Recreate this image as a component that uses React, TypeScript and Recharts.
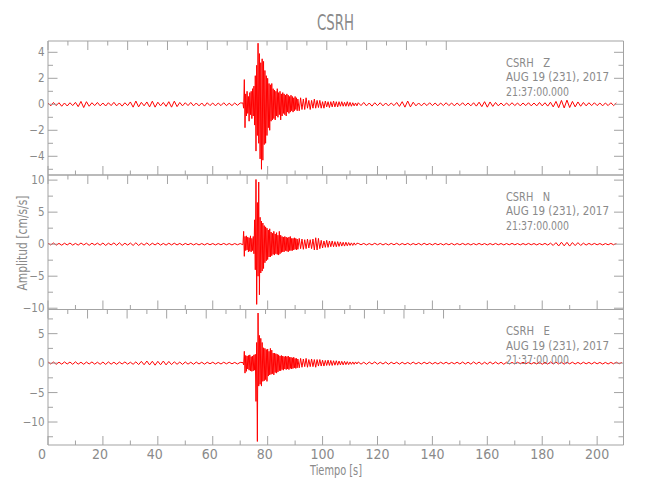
import { LineChart, Line, XAxis, YAxis } from "recharts";

// segment layout of each trace (seconds)
const PRE_START = 0;
const NOISE_STEP = 1;
const EVENT_START = 71;
const EVENT_STEP = 0.25;
const CODA_START = 91;
const CODA_STEP = 0.5;
const POST_START = 113;

// Z component [cm/s/s]
const zPre = [
  0.1, -0.12, 0.14, -0.1, 0.12, -0.15, 0.1, -0.13, 0.12, -0.1,
  0.15, -0.18, 0.22, -0.25, 0.2, -0.15, 0.12, -0.1, 0.14, -0.12,
  0.1, -0.13, 0.12, -0.1, 0.15, -0.12, 0.1, -0.14, 0.12, -0.1,
  0.18, -0.22, 0.25, -0.2, 0.15, -0.12, 0.18, -0.2, 0.24, -0.22,
  0.16, -0.12, 0.14, -0.16, 0.2, -0.22, 0.24, -0.18, 0.14, -0.12,
  0.12, -0.1, 0.14, -0.12, 0.1, -0.12, 0.1, -0.14, 0.12, -0.1,
  0.1, -0.12, 0.1, -0.1, 0.12, -0.1, 0.08, -0.1, 0.1, -0.08,
  0.1,
];
const zEvent = [
  0.1, -0.3, 1.9, -1.8, 0.8, -0.9, 1.0, -0.7,
  0.6, -1.3, 0.9, -0.8, 1.0, -1.1, 1.2, -0.9,
  1.4, -1.6, 2.2, -3.6, 3.0, -2.4, 4.7, -3.0,
  3.9, -4.2, 3.2, -5.0, 3.5, -4.3, 3.3, -3.1,
  2.6, -3.0, 2.2, -2.4, 2.0, -1.8, 1.6, -2.0,
  1.5, -1.3, 1.6, -1.2, 1.2, -1.1, 1.1, -1.2,
  1.0, -0.9, 1.2, -1.0, 0.9, -0.8, 1.0, -1.2,
  0.8, -0.9, 0.9, -0.7, 0.8, -0.8, 0.7, -0.9,
  0.8, -0.6, 0.7, -0.7, 0.6, -0.6, 0.7, -0.5,
  0.6, -0.6, 0.5, -0.5, 0.6, -0.4, 0.5, -0.5,
];
const zCoda = [
  0.4, -0.5, 0.5, -0.4, 0.4, -0.4, 0.5, -0.3, 0.3, -0.4, 0.3,
  -0.3, 0.4, -0.3, 0.3, -0.25, 0.3, -0.3, 0.2, -0.3, 0.25, -0.2,
  0.2, -0.25, 0.2, -0.2, 0.25, -0.2, 0.2, -0.2, 0.2, -0.15, 0.2,
  -0.15, 0.15, -0.15, 0.2, -0.15, 0.15, -0.15, 0.12, -0.12, 0.1, -0.12,
];
const zPost = [
  0.12, -0.1, 0.14, -0.12, 0.1, -0.14, 0.12, -0.1, 0.12, -0.12,
  0.1, -0.12, 0.1, -0.1, 0.14, -0.16, 0.2, -0.22, 0.25, -0.2,
  0.16, -0.12, 0.1, -0.12, 0.1, -0.1, 0.12, -0.1, 0.1, -0.12,
  0.1, -0.1, 0.12, -0.1, 0.1, -0.12, 0.1, -0.1, 0.12, -0.1,
  0.1, -0.12, 0.12, -0.14, 0.16, -0.18, 0.2, -0.22, 0.18, -0.16,
  0.14, -0.12, 0.1, -0.12, 0.1, -0.1, 0.12, -0.1, 0.1, -0.12,
  0.1, -0.1, 0.12, -0.12, 0.1, -0.12, 0.14, -0.12, 0.12, -0.14,
  0.16, -0.2, 0.22, -0.26, 0.3, -0.28, 0.32, -0.25, 0.22, -0.2,
  0.18, -0.15, 0.14, -0.12, 0.12, -0.1, 0.12, -0.1, 0.1, -0.12,
  0.1, -0.1, 0.12, -0.1, 0.1,
];

// N component [cm/s/s]
const nPre = [
  0.15, -0.12, 0.18, -0.15, 0.12, -0.16, 0.15, -0.12, 0.18, -0.15,
  0.12, -0.15, 0.18, -0.12, 0.15, -0.18, 0.15, -0.12, 0.16, -0.15,
  0.18, -0.2, 0.15, -0.12, 0.2, -0.18, 0.22, -0.2, 0.15, -0.15,
  0.18, -0.2, 0.22, -0.2, 0.15, -0.15, 0.2, -0.18, 0.15, -0.12,
  0.18, -0.15, 0.12, -0.15, 0.15, -0.12, 0.15, -0.12, 0.12, -0.14,
  0.12, -0.1, 0.12, -0.12, 0.1, -0.12, 0.1, -0.12, 0.12, -0.1,
  0.1, -0.12, 0.1, -0.1, 0.12, -0.1, 0.1, -0.12, 0.1, -0.1,
  0.1,
];
const nEvent = [
  -0.1, 2.0, -1.9, 1.2, -1.0, 1.3, -0.9, 1.1,
  -1.2, 1.0, -1.1, 1.3, -1.2, 0.9, -1.0, 1.2,
  -1.5, 3.8, -4.0, 10.1, -9.4, 6.5, -5.0, 9.7,
  -7.9, 4.2, -4.5, 3.6, -4.2, 3.3, -3.8, 2.9,
  -2.9, 2.7, -2.6, 2.5, -2.4, 2.2, -2.0, 2.4,
  -2.0, 1.9, -1.8, 1.7, -1.6, 2.0, -1.7, 1.6,
  -1.5, 1.8, -1.6, 1.4, -1.7, 2.0, -1.5, 1.4,
  -1.3, 1.2, -1.2, 1.1, -1.2, 1.2, -1.0, 1.1,
  -1.1, 1.0, -1.2, 1.1, -1.0, 1.2, -1.0, 0.9,
  -1.0, 0.9, -0.9, 1.0, -0.8, 0.9, -0.9, 0.8,
];
const nCoda = [
  -0.8, 0.9, -0.7, 0.8, -0.8, 0.7, -0.7, 0.8, -0.6, 0.7, -0.7,
  0.8, -0.9, 1.0, -0.9, 0.9, -0.7, 0.6, -0.6, 0.5, -0.5, 0.6,
  -0.5, 0.5, -0.4, 0.5, -0.4, 0.4, -0.4, 0.4, -0.35, 0.35, -0.3,
  0.3, -0.3, 0.3, -0.25, 0.25, -0.2, 0.2, -0.2, 0.2, -0.15, 0.15,
];
const nPost = [
  0.12, -0.1, 0.12, -0.12, 0.1, -0.12, 0.14, -0.1, 0.12, -0.12,
  0.1, -0.12, 0.12, -0.1, 0.14, -0.12, 0.1, -0.1, 0.12, -0.12,
  0.1, -0.1, 0.12, -0.12, 0.14, -0.1, 0.1, -0.12, 0.12, -0.1,
  0.1, -0.12, 0.1, -0.1, 0.12, -0.12, 0.1, -0.1, 0.12, -0.1,
  0.1, -0.12, 0.1, -0.1, 0.12, -0.1, 0.1, -0.12, 0.1, -0.1,
  0.12, -0.1, 0.1, -0.12, 0.1, -0.1, 0.12, -0.1, 0.1, -0.12,
  0.1, -0.1, 0.12, -0.1, 0.1, -0.12, 0.1, -0.1, 0.12, -0.14,
  0.16, -0.2, 0.24, -0.28, 0.3, -0.26, 0.28, -0.3, 0.25, -0.22,
  0.24, -0.2, 0.16, -0.14, 0.12, -0.1, 0.12, -0.1, 0.1, -0.12,
  0.1, -0.1, 0.12, -0.1, 0.1,
];

// E component [cm/s/s]
const ePre = [
  0.2, -0.15, 0.18, -0.2, 0.15, -0.18, 0.2, -0.15, 0.18, -0.2,
  0.22, -0.18, 0.15, -0.2, 0.18, -0.15, 0.2, -0.18, 0.15, -0.2,
  0.18, -0.22, 0.2, -0.18, 0.15, -0.2, 0.18, -0.15, 0.2, -0.18,
  0.15, -0.2, 0.22, -0.25, 0.3, -0.28, 0.35, -0.3, 0.32, -0.35,
  0.3, -0.28, 0.35, -0.3, 0.28, -0.25, 0.22, -0.2, 0.18, -0.22,
  0.2, -0.18, 0.15, -0.2, 0.18, -0.15, 0.15, -0.18, 0.15, -0.12,
  0.15, -0.15, 0.12, -0.15, 0.15, -0.12, 0.15, -0.12, 0.12, -0.15,
  0.12,
];
const eEvent = [
  0.1, -0.3, 2.0, -1.7, 1.3, -1.4, 1.2, -1.0,
  1.3, -1.2, 1.4, -1.3, 1.1, -1.4, 1.2, -1.3,
  1.4, -1.2, 1.5, -6.5, 3.5, -13.3, 8.5, -3.9,
  4.7, -3.6, 4.2, -3.9, 3.5, -3.1, 2.6, -3.0,
  2.5, -2.8, 2.3, -3.1, 2.4, -2.2, 2.0, -2.0,
  2.5, -1.9, 2.2, -1.8, 1.7, -2.0, 1.7, -1.6,
  1.6, -1.7, 1.5, -1.5, 1.4, -1.3, 1.2, -1.3,
  1.3, -1.1, 1.2, -1.2, 1.1, -1.0, 1.2, -1.1,
  1.1, -1.0, 1.2, -1.1, 1.0, -0.9, 1.0, -1.0,
  0.9, -0.9, 1.0, -0.8, 0.8, -0.9, 0.8, -0.8,
];
const eCoda = [
  0.7, -0.8, 0.8, -0.7, 0.7, -0.6, 0.8, -0.7, 0.6, -0.6, 0.7,
  -0.6, 0.6, -0.7, 0.6, -0.5, 0.6, -0.5, 0.5, -0.5, 0.45, -0.4,
  0.5, -0.4, 0.45, -0.4, 0.4, -0.35, 0.4, -0.35, 0.35, -0.3, 0.3,
  -0.3, 0.3, -0.25, 0.25, -0.25, 0.2, -0.2, 0.2, -0.2, 0.2, -0.15,
];
const ePost = [
  0.2, -0.18, 0.15, -0.2, 0.18, -0.15, 0.2, -0.18, 0.15, -0.15,
  0.18, -0.2, 0.15, -0.12, 0.15, -0.18, 0.15, -0.15, 0.12, -0.15,
  0.18, -0.15, 0.12, -0.15, 0.15, -0.12, 0.15, -0.15, 0.12, -0.15,
  0.15, -0.12, 0.15, -0.15, 0.12, -0.12, 0.15, -0.15, 0.18, -0.15,
  0.15, -0.18, 0.2, -0.15, 0.18, -0.2, 0.15, -0.18, 0.2, -0.15,
  0.18, -0.15, 0.15, -0.2, 0.15, -0.15, 0.12, -0.15, 0.15, -0.12,
  0.15, -0.12, 0.12, -0.15, 0.12, -0.15, 0.18, -0.2, 0.15, -0.18,
  0.2, -0.15, 0.18, -0.15, 0.15, -0.18, 0.15, -0.12, 0.15, -0.15,
  0.12, -0.15, 0.15, -0.12, 0.12, -0.15, 0.15, -0.12, 0.12, -0.15,
  0.12, -0.15, 0.12, -0.12, 0.15, -0.12, 0.1,
];

const X_TICKS = [0, 10, 20, 30, 40, 50, 60, 70, 80, 90, 100, 110, 120, 130, 140, 150, 160, 170, 180, 190, 200];
const Z_TICKS = [-5, -4, -3, -2, -1, 0, 1, 2, 3, 4];
const N_TICKS = [-10, -7.5, -5, -2.5, 0, 2.5, 5, 7.5, 10];
const E_TICKS = [-12.5, -10, -7.5, -5, -2.5, 0, 2.5, 5, 7.5];

const STATION = "CSRH";
const DATE_LINE = "AUG 19 (231), 2017";
const TIME_LINE = "21:37:00.000";

const AXIS = "#a3a3a3";
const TEXT = "#8a8a8a";
const FONT = "'Liberation Sans Narrow', 'DejaVu Sans Condensed', 'Liberation Sans', sans-serif";
const LEFT = 48;
const RIGHT = 623.5;

function buildTrace(pre: number[], ev: number[], coda: number[], post: number[]) {
  return [
    ...pre.map((v, i) => ({ t: PRE_START + i * NOISE_STEP, v })),
    ...ev.map((v, i) => ({ t: EVENT_START + i * EVENT_STEP, v })),
    ...coda.map((v, i) => ({ t: CODA_START + i * CODA_STEP, v })),
    ...post.map((v, i) => ({ t: POST_START + i * NOISE_STEP, v })),
  ];
}

const panels = [
  { comp: "Z", top: 41, bottom: 175, domain: [-5.44, 4.87], ticks: Z_TICKS, major: 2, data: buildTrace(zPre, zEvent, zCoda, zPost) },
  { comp: "N", top: 175, bottom: 309.5, domain: [-10.2, 10.8], ticks: N_TICKS, major: 5, data: buildTrace(nPre, nEvent, nCoda, nPost) },
  { comp: "E", top: 309.5, bottom: 445, domain: [-13.9, 9.1], ticks: E_TICKS, major: 5, data: buildTrace(ePre, eEvent, eCoda, ePost) },
];

const fmt = (v: number) => (v < 0 ? "\u2212" + Math.abs(v) : String(v));

function Panel({ p, showX }: { p: (typeof panels)[number]; showX: boolean }) {
  return (
    <div style={{ position: "absolute", left: 0, top: 0 }}>
      <LineChart
        width={650}
        height={500}
        data={p.data}
        margin={{ top: p.top - 1, bottom: 500 - p.bottom - 1, left: LEFT - 1, right: 650 - RIGHT - 1 }}
      >
        <XAxis
          type="number"
          dataKey="t"
          domain={[0, 209.6]}
          allowDataOverflow
          ticks={X_TICKS}
          interval={0}
          height={1}
          tickSize={0}
          tickMargin={0}
          tickLine={false}
          axisLine={{ stroke: AXIS }}
          tick={(t: any) => {
            const major = t.payload.value % 20 === 0;
            const s = String(t.payload.value);
            return (
              <g key={`b${t.payload.value}`}>
                <line x1={t.x} x2={t.x} y1={t.y} y2={t.y - (major ? 9 : 4.5)} stroke={AXIS} />
                {showX && major && (
                  <text x={t.x - (3 - s.length) * 3} y={t.y + 13.5} textAnchor="middle" fill={TEXT} fontSize={14} fontFamily={FONT}>
                    {s}
                  </text>
                )}
              </g>
            );
          }}
        />
        <XAxis
          xAxisId="top"
          orientation="top"
          type="number"
          domain={[0, 209.6]}
          allowDataOverflow
          ticks={X_TICKS}
          interval={0}
          height={1}
          tickSize={0}
          tickMargin={0}
          tickLine={false}
          axisLine={{ stroke: AXIS }}
          tick={(t: any) => {
            const major = t.payload.value % 20 === 0;
            return <line key={`t${t.payload.value}`} x1={t.x} x2={t.x} y1={t.y} y2={t.y + (major ? 9 : 4.5)} stroke={AXIS} />;
          }}
        />
        <YAxis
          type="number"
          domain={p.domain}
          allowDataOverflow
          ticks={p.ticks}
          interval={0}
          width={1}
          tickSize={0}
          tickMargin={0}
          tickLine={false}
          axisLine={{ stroke: AXIS }}
          tick={(t: any) => {
            const major = t.payload.value % p.major === 0;
            return (
              <g key={`l${t.payload.value}`}>
                <line x1={t.x} x2={t.x + (major ? 9.5 : 5)} y1={t.y} y2={t.y} stroke={AXIS} />
                {major && (
                  <text x={t.x - 3.5} y={t.y + 4} textAnchor="end" fill={TEXT} fontSize={11.5} fontFamily={FONT}>
                    {fmt(t.payload.value)}
                  </text>
                )}
              </g>
            );
          }}
        />
        <YAxis
          yAxisId="r"
          orientation="right"
          type="number"
          domain={p.domain}
          allowDataOverflow
          ticks={p.ticks}
          interval={0}
          width={1}
          tickSize={0}
          tickMargin={0}
          tickLine={false}
          axisLine={{ stroke: AXIS }}
          tick={(t: any) => {
            const major = t.payload.value % p.major === 0;
            return <line key={`r${t.payload.value}`} x1={t.x} x2={t.x - (major ? 9.5 : 5)} y1={t.y} y2={t.y} stroke={AXIS} />;
          }}
        />
        <Line type="linear" dataKey="v" stroke="#ff0000" strokeWidth={1} dot={false} isAnimationActive={false} />
      </LineChart>
    </div>
  );
}

export default function App() {
  return (
    <div style={{ position: "absolute", left: 0, top: 0, width: 650, height: 500, background: "#fff" }}>
      {panels.map((p, i) => (
        <Panel key={p.comp} p={p} showX={i === panels.length - 1} />
      ))}
      <svg width={650} height={500} style={{ position: "absolute", left: 0, top: 0, pointerEvents: "none" }}>
        <text x={335.5} y={30} textAnchor="middle" fill={TEXT} fontSize={21} fontFamily={FONT} textLength={37} lengthAdjust="spacingAndGlyphs">
          {STATION}
        </text>
        {panels.map((p) => (
          <g key={p.comp} fill={TEXT} fontSize={12.5} fontFamily={FONT}>
            <text x={506} y={p.top + 25.5} style={{ whiteSpace: "pre" }} textLength={44} lengthAdjust="spacingAndGlyphs">
              {`${STATION}   ${p.comp}`}
            </text>
            <text x={506} y={p.top + 40} textLength={103} lengthAdjust="spacingAndGlyphs">
              {DATE_LINE}
            </text>
            <text x={506} y={p.top + 54.5} textLength={63} lengthAdjust="spacingAndGlyphs">
              {TIME_LINE}
            </text>
          </g>
        ))}
        <text x={336} y={475} textAnchor="middle" fill={TEXT} fontSize={13.5} fontFamily={FONT} textLength={52} lengthAdjust="spacingAndGlyphs">
          Tiempo [s]
        </text>
        <text
          transform="translate(27,243) rotate(-90)"
          textAnchor="middle"
          fill={TEXT}
          fontSize={13.5}
          fontFamily={FONT}
          textLength={95}
          lengthAdjust="spacingAndGlyphs"
        >
          Amplitud [cm/s/s]
        </text>
      </svg>
    </div>
  );
}
